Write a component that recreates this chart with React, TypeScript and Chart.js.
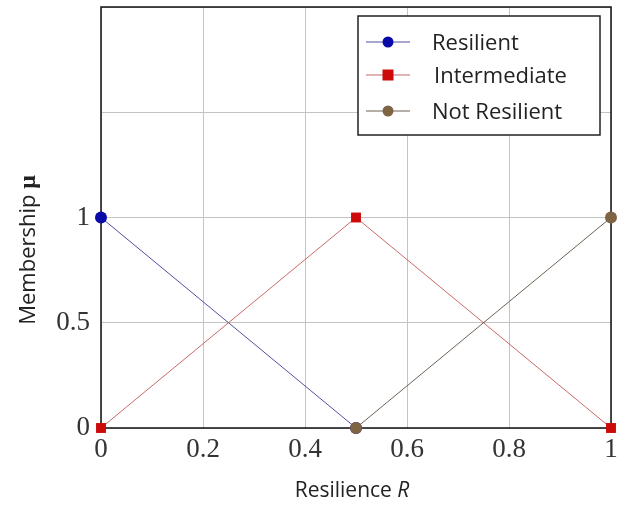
import React, { useEffect, useRef } from "react";
import { Chart, registerables } from "chart.js";

Chart.register(...registerables);

const seriesNames = ["Resilient", "Intermediate", "Not Resilient"];
const resilientX = [0, 0.5];
const resilientY = [1, 0];
const intermediateX = [0, 0.5, 1];
const intermediateY = [0, 1, 0];
const notResilientX = [0.5, 1];
const notResilientY = [0, 1];
const yTickLabels = ["0", "0.5", "1"];

const lineColors = ["#5050a0", "#c86868", "#6e6052"];
const markerColors = ["#0a0aa8", "#cc0a0a", "#7f6444"];
const markerStyles = ["circle", "rect", "circle"];
const drawOrders = [2, 1, 0];

const SANS = "'Open Sans'";

const toPts = (xs: number[], ys: number[]) => xs.map((x, i) => ({ x, y: ys[i] }));

const decorPlugin = {
  id: "decor",
  beforeDatasetsDraw(chart: any) {
    const { ctx, chartArea: a } = chart;
    ctx.save();
    ctx.strokeStyle = "#111";
    ctx.lineWidth = 1.5;
    ctx.strokeRect(a.left, a.top, a.right - a.left, a.bottom - a.top);
    ctx.restore();
  },
  afterDraw(chart: any) {
    const { ctx } = chart;
    ctx.save();
    // legend box
    const bx = 358, by = 16, bw = 242, bh = 119;
    ctx.fillStyle = "#fff";
    ctx.fillRect(bx, by, bw, bh);
    ctx.strokeStyle = "#222";
    ctx.lineWidth = 1.5;
    ctx.strokeRect(bx, by, bw, bh);
    const rows = [42, 75, 111];
    chart.data.datasets.forEach((ds: any, i: number) => {
      const y = rows[i];
      ctx.strokeStyle = ds.borderColor;
      ctx.lineWidth = 1.2;
      ctx.beginPath();
      ctx.moveTo(366, y);
      ctx.lineTo(410, y);
      ctx.stroke();
      ctx.fillStyle = ds.pointBackgroundColor;
      if (ds.pointStyle === "rect") {
        ctx.fillRect(388 - 5.5, y - 5.5, 11, 11);
      } else {
        ctx.beginPath();
        ctx.arc(388, y, 5.5, 0, Math.PI * 2);
        ctx.fill();
      }
      ctx.fillStyle = "#222";
      ctx.font = `22px ${SANS}`;
      ctx.textBaseline = "middle";
      ctx.textAlign = "left";
      ctx.fillText(ds.label, i === 1 ? 434 : 432, y + 2);
    });
    // x title
    ctx.fillStyle = "#222";
    ctx.textBaseline = "alphabetic";
    const fx = `21px ${SANS}`;
    const fxi = `italic 21px ${SANS}`;
    ctx.font = fx;
    const t1 = "Resilience ";
    const w1 = ctx.measureText(t1).width;
    ctx.font = fxi;
    const w2 = ctx.measureText("R").width;
    const sx = 352 - (w1 + w2) / 2;
    ctx.font = fx;
    ctx.fillText(t1, sx, 497);
    ctx.font = fxi;
    ctx.fillText("R", sx + w1, 497);
    // y title
    ctx.translate(35, 250);
    ctx.rotate(-Math.PI / 2);
    const fy = `22px ${SANS}`;
    const fmu = "bold 24px 'Liberation Serif'";
    ctx.font = fy;
    const m1 = "Membership ";
    const mw1 = ctx.measureText(m1).width;
    ctx.font = fmu;
    const mw2 = ctx.measureText("μ").width;
    const mx = -(mw1 + mw2) / 2;
    ctx.font = fy;
    ctx.fillText(m1, mx, 0);
    ctx.font = fmu;
    ctx.fillText("μ", mx + mw1, 0);
    ctx.restore();
  },
};

export default function App() {
  const ref = useRef<HTMLCanvasElement>(null);
  useEffect(() => {
    document.body.style.margin = "0";
    const xs = [resilientX, intermediateX, notResilientX];
    const ys = [resilientY, intermediateY, notResilientY];
    const chart = new Chart(ref.current!, {
      type: "line",
      data: {
        datasets: seriesNames.map((name, i) => ({
          label: name,
          data: toPts(xs[i], ys[i]),
          order: drawOrders[i],
          borderColor: lineColors[i],
          borderWidth: 1,
          pointBackgroundColor: markerColors[i],
          pointBorderColor: markerColors[i],
          pointBorderWidth: 0,
          pointStyle: markerStyles[i],
          pointRadius: markerStyles[i] === "rect" ? 7 : 6,
          tension: 0,
          clip: false,
        })),
      },
      options: {
        animation: false,
        responsive: false,
        layout: { padding: { left: 0, top: 6, right: 25, bottom: 0 } },
        plugins: { legend: { display: false }, tooltip: { enabled: false } },
        scales: {
          x: {
            type: "linear",
            min: 0,
            max: 1,
            afterFit: (s: any) => { s.height = 78; s.paddingLeft = 0; s.paddingRight = 0; },
            ticks: {
              stepSize: 0.2,
              padding: 6,
              color: "#333",
              font: { family: "'Liberation Serif'", size: 27 },
              maxRotation: 0,
              callback: (v: any) => String(Number(Number(v).toFixed(2))),
            },
            grid: { color: "#c4c4c4", lineWidth: 1, drawTicks: false },
            border: { display: false },
          },
          y: {
            type: "linear",
            min: 0,
            max: 2,
            afterFit: (s: any) => { s.width = 101; s.paddingTop = 0; s.paddingBottom = 0; },
            ticks: {
              stepSize: 0.5,
              padding: 11,
              color: "#333",
              font: { family: "'Liberation Serif'", size: 27 },
              callback: (v: any) => {
                const s = String(Number(Number(v).toFixed(2)));
                return yTickLabels.includes(s) ? s : "";
              },
            },
            grid: { color: "#c4c4c4", lineWidth: 1, drawTicks: false },
            border: { display: false },
          },
        },
      } as any,
      plugins: [decorPlugin],
    });
    return () => chart.destroy();
  }, []);
  return (
    <div style={{ position: "absolute", left: 0, top: 0, width: 636, height: 506, background: "#fff" }}>
      <canvas ref={ref} width={636} height={506} />
    </div>
  );
}
